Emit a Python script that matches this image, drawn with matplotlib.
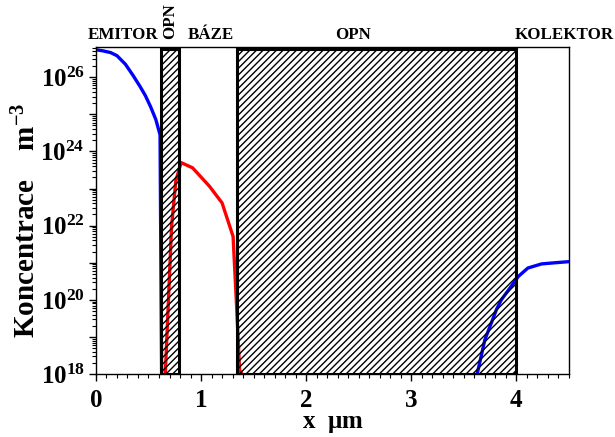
import numpy as np
import matplotlib
matplotlib.use("Agg")
import matplotlib.pyplot as plt
from matplotlib.patches import Rectangle
from matplotlib.ticker import FixedLocator, FuncFormatter, LogLocator, NullFormatter, MultipleLocator

plt.rcParams["font.family"] = ["Liberation Serif", "DejaVu Serif"]
plt.rcParams["font.weight"] = "bold"
plt.rcParams["mathtext.fontset"] = "custom"
plt.rcParams["mathtext.rm"] = "Liberation Serif:bold"
plt.rcParams["mathtext.bf"] = "Liberation Serif:bold"
plt.rcParams["mathtext.it"] = "Liberation Serif:bold"
plt.rcParams["hatch.linewidth"] = 1.0

# electron concentration in the emitter (m^-3)
emitter_x = [0.0, 0.07, 0.14, 0.2, 0.28, 0.35, 0.42, 0.47, 0.52, 0.57, 0.61, 0.625]
emitter_n = [5.5e26, 5.1e26, 4.6e26, 3.8e26, 2.24e26, 1.15e26, 5.6e25, 3.2e25,
             1.6e25, 7.2e24, 2.8e24, 1.0e18]

# hole concentration in the base (m^-3)
base_x = [0.66, 0.72, 0.76, 0.81, 0.92, 1.08, 1.20, 1.305, 1.337, 1.367, 1.39]
base_p = [1.0e18, 1.0e22, 1.6e23, 5.0e23, 3.6e23, 1.15e23, 4.1e22, 5.1e21, 8.0e19, 1.26e18, 1.0e18]

# electron concentration in the collector (m^-3)
coll_x = [3.627, 3.70, 3.76, 3.81, 3.857, 3.94, 4.02, 4.11, 4.24, 4.37, 4.5]
coll_n = [1.0e18, 8.3e18, 2.3e19, 5.4e19, 1.0e20, 2.1e20, 4.3e20, 7.2e20, 9.3e20, 1.0e21, 1.07e21]

# depletion regions (OPN) as [start, end] in um
opn_regions = [(0.62, 0.79), (1.345, 4.0)]
opn_top = 5.6e26

# region names above the plot: (text, x position, rotation)
region_labels = [("EMITOR", 0.256, 0), ("OPN", 0.705, 90), ("BÁZE", 1.09, 0),
                 ("OPN", 2.45, 0), ("KOLEKTOR", 4.46, 0)]

x_ticks = [0, 1, 2, 3, 4]
y_label_exps = [18, 20, 22, 24, 26]

fig = plt.figure(figsize=(6.15, 4.37), dpi=100)
ax = fig.add_axes([0.156, 0.144, 0.769, 0.749])
ax.set_yscale("log")
ax.set_xlim(0, 4.5)
ax.set_ylim(1e18, 10 ** 26.82)

for x0, x1 in opn_regions:
    ax.add_patch(Rectangle((x0, 1e18), x1 - x0, opn_top - 1e18,
                           facecolor="white", edgecolor="none", zorder=1))
    ax.add_patch(Rectangle((x0, 1e18), x1 - x0, opn_top - 1e18,
                           facecolor="none", edgecolor="black", hatch="/////",
                           linewidth=2.2, zorder=3))

ax.plot(emitter_x, emitter_n, color="blue", lw=2.4, zorder=2, solid_capstyle="round")
ax.plot(base_x, base_p, color="red", lw=2.4, zorder=2)
ax.plot(coll_x, coll_n, color="blue", lw=2.4, zorder=2, solid_capstyle="round")

for txt, xp, rot in region_labels:
    ax.text(xp, 1.025 if rot else 1.012, txt, transform=ax.get_xaxis_transform(),
            ha="center", va="bottom", rotation=rot, fontsize=12.2, fontweight="bold")

ax.set_xticks(x_ticks)
ax.xaxis.set_minor_locator(MultipleLocator(0.1))
ax.set_xticklabels([str(t) for t in x_ticks])

ax.yaxis.set_major_locator(FixedLocator([10.0 ** e for e in range(18, 27)]))
ax.yaxis.set_minor_locator(LogLocator(base=10, subs=np.arange(2, 10), numticks=20))
ax.yaxis.set_minor_formatter(NullFormatter())


def fmt(v, pos):
    e = int(round(np.log10(v)))
    return r"$\mathbf{10^{%d}}$" % e if e in y_label_exps else ""


ax.yaxis.set_major_formatter(FuncFormatter(fmt))

ax.tick_params(axis="both", which="major", direction="out", length=5, width=1,
               labelsize=18)
ax.tick_params(axis="both", which="minor", direction="out", length=3, width=0.8)
ax.tick_params(axis="x", pad=6)
ax.tick_params(axis="y", pad=3)
for lab in ax.get_xticklabels():
    lab.set_fontweight("bold")

for sp in ax.spines.values():
    sp.set_linewidth(1.0)

ax.set_xlabel(r"x  $\mathbf{\mu}$m", fontsize=18, fontweight="bold", labelpad=0)
ax.set_ylabel(r"Koncentrace    m$^{\mathbf{-3}}$", fontsize=21, fontweight="bold")
ax.yaxis.set_label_coords(-0.115, 0.47)

fig.savefig("out.png", dpi=100)
